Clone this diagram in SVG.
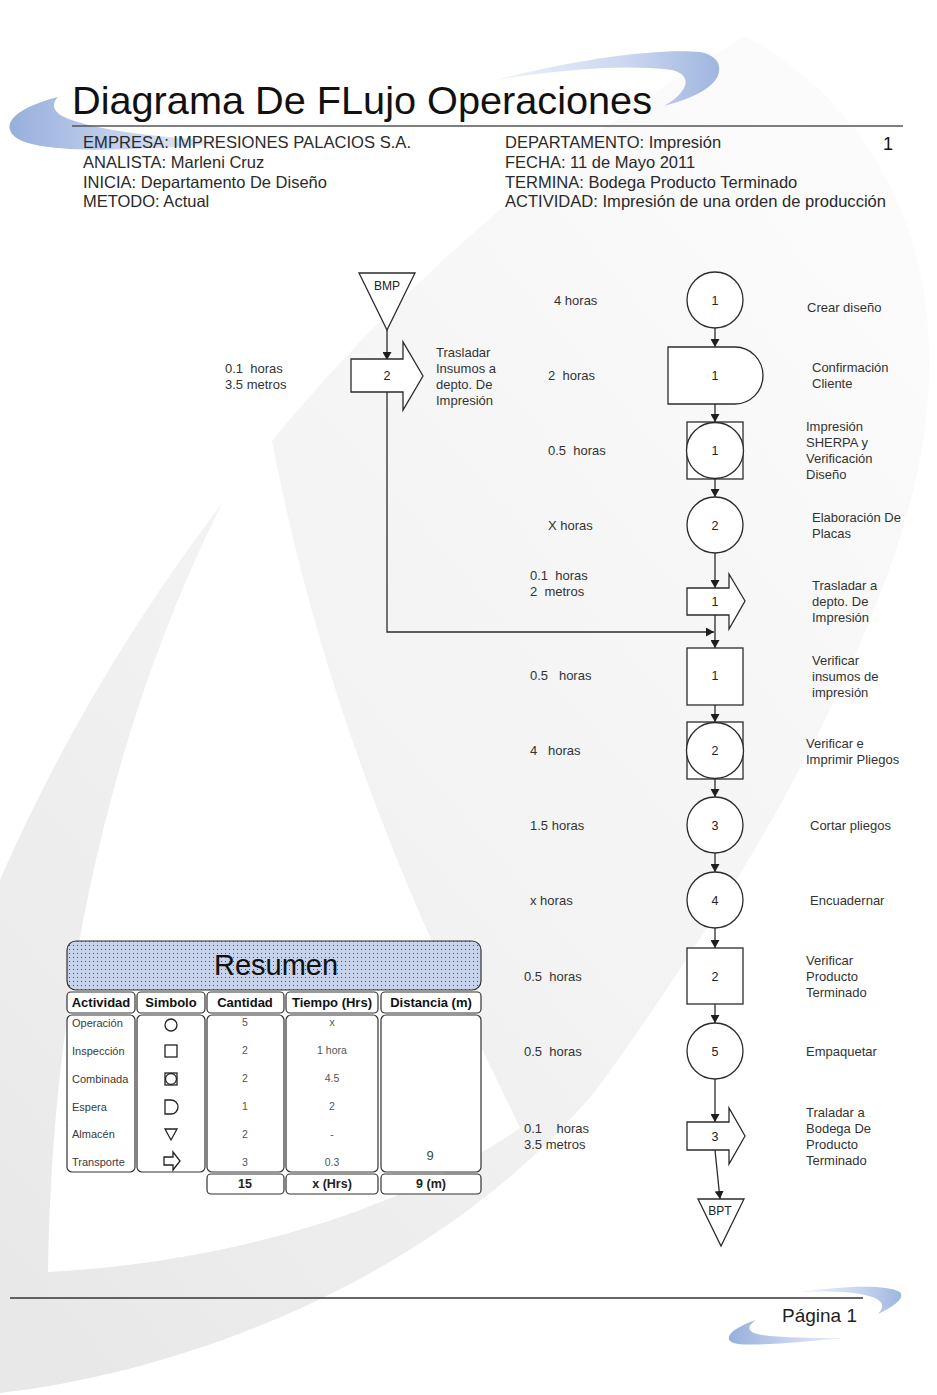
<svg xmlns="http://www.w3.org/2000/svg" width="937" height="1395" viewBox="0 0 937 1395" xml:space="preserve">
<defs>
  <linearGradient id="gLeaf" x1="0.9" y1="0" x2="0.1" y2="1">
    <stop offset="0" stop-color="#fcfcfc"/>
    <stop offset="0.55" stop-color="#f3f3f3"/>
    <stop offset="1" stop-color="#e8e8e8"/>
  </linearGradient>
  <linearGradient id="gBlueL" x1="0" y1="0" x2="1" y2="0">
    <stop offset="0" stop-color="#97afdc"/>
    <stop offset="0.5" stop-color="#c3d2ee"/>
    <stop offset="1" stop-color="#eef2fa"/>
  </linearGradient>
  <linearGradient id="gBlueR" x1="0" y1="0" x2="1" y2="0">
    <stop offset="0" stop-color="#f0f4fb"/>
    <stop offset="0.6" stop-color="#c9d6ef"/>
    <stop offset="1" stop-color="#9fb6e0"/>
  </linearGradient>
  <pattern id="dots" width="4" height="4" patternUnits="userSpaceOnUse">
    <rect width="4" height="4" fill="#c6d3ea"/>
    <rect x="1" y="1" width="1" height="1" fill="#4f4f4f"/>
  </pattern>
  <marker id="arr" markerWidth="9" markerHeight="9" refX="8" refY="4.5" orient="auto" markerUnits="userSpaceOnUse">
    <path d="M0,0 L8,4.5 L0,9 Z" fill="#1e1e1e"/>
  </marker>
  <style>
    text { font-family: "Liberation Sans", Arial, sans-serif; white-space: pre; }
    .hdr { font-size: 16.5px; fill: #2a2a2a; }
    .lbl { font-size: 13px; fill: #333333; }
    .num { font-size: 12.5px; fill: #222222; text-anchor: middle; }
    .shp { fill: #ffffff; stroke: #2b2b2b; stroke-width: 1.3; }
    .con { fill: none; stroke: #2b2b2b; stroke-width: 1.3; }
    .cell { fill: #ffffff; stroke: #333333; stroke-width: 1.2; }
    .th { font-size: 13px; font-weight: bold; fill: #111111; text-anchor: middle; }
    .act { font-size: 11px; fill: #3a3a3a; }
    .val { font-size: 10.5px; fill: #555555; text-anchor: middle; }
    .big { font-size: 13px; fill: #444444; text-anchor: middle; }
    .tot { font-size: 12.5px; font-weight: bold; fill: #222222; text-anchor: middle; }
    .sym { fill: #ffffff; stroke: #222222; stroke-width: 1.3; }
  </style>
</defs>

<!-- background -->
<g id="background">
  <rect x="0" y="0" width="937" height="1395" fill="#ffffff"/>
  <path d="M 745,36 C 880,110 945,250 926,420 C 905,600 770,850 600,1085 C 450,1270 200,1370 0,1393 L 0,880 C 130,580 380,250 745,36 Z" fill="url(#gLeaf)"/>
  <path d="M 268,420 C 130,650 52,950 48,1272 C 230,1262 400,1212 520,1128 C 460,1000 330,760 268,420 Z" fill="#ffffff"/>
  <!-- top swooshes -->
  <path d="M 238,142 C 170,138 95,132 62,116 C 52,110 52,103 58,97 C 30,104 6,116 10,130 C 16,150 80,156 238,142 Z" fill="url(#gBlueL)"/>
  <path d="M 495,80 C 580,58 660,48 700,52 C 722,56 724,72 712,84 C 700,95 682,101 664,106 C 688,92 694,76 672,70 C 620,64 560,70 495,80 Z" fill="url(#gBlueR)"/>
  <!-- footer swooshes -->
  <path d="M 795,1293 C 840,1286 885,1284 900,1292 C 905,1298 895,1306 878,1314 C 886,1306 884,1298 860,1294 C 840,1291 815,1291 795,1293 Z" fill="url(#gBlueR)"/>
  <path d="M 846,1338 C 800,1342 760,1346 738,1344 C 722,1342 726,1330 756,1320 C 744,1328 748,1334 770,1336 C 795,1338 820,1338 846,1338 Z" fill="url(#gBlueL)"/>
</g>

<!-- header -->
<g id="header">
  <text x="72" y="114" font-size="39.5" fill="#111111" textLength="580" lengthAdjust="spacingAndGlyphs">Diagrama De FLujo Operaciones</text>
  <line x1="72" y1="126" x2="903" y2="126" stroke="#555555" stroke-width="1.6"/>
  <text class="hdr" x="83" y="148" textLength="328" lengthAdjust="spacingAndGlyphs">EMPRESA: IMPRESIONES PALACIOS S.A.</text>
  <text class="hdr" x="83" y="168">ANALISTA: Marleni Cruz</text>
  <text class="hdr" x="83" y="188">INICIA: Departamento De Diseño</text>
  <text class="hdr" x="83" y="207">METODO: Actual</text>
  <text class="hdr" x="505" y="148">DEPARTAMENTO: Impresión</text>
  <text class="hdr" x="505" y="168">FECHA: 11 de Mayo 2011</text>
  <text class="hdr" x="505" y="188">TERMINA: Bodega Producto Terminado</text>
  <text class="hdr" x="505" y="207" textLength="381" lengthAdjust="spacingAndGlyphs">ACTIVIDAD: Impresión de una orden de producción</text>
  <text x="883" y="150" font-size="18" fill="#111111">1</text>
</g>

<!-- connectors -->
<g id="connectors">
  <line class="con" x1="387" y1="330" x2="387" y2="360" marker-end="url(#arr)"/>
  <polyline class="con" points="387,392 387,632 714,632" marker-end="url(#arr)"/>
  <line class="con" x1="715" y1="328" x2="715" y2="347" marker-end="url(#arr)"/>
  <line class="con" x1="715" y1="404" x2="715" y2="422" marker-end="url(#arr)"/>
  <line class="con" x1="715" y1="479" x2="715" y2="497" marker-end="url(#arr)"/>
  <line class="con" x1="715" y1="553" x2="715" y2="588" marker-end="url(#arr)"/>
  <line class="con" x1="715" y1="615" x2="715" y2="648" marker-end="url(#arr)"/>
  <line class="con" x1="715" y1="705" x2="715" y2="722" marker-end="url(#arr)"/>
  <line class="con" x1="715" y1="779" x2="715" y2="797" marker-end="url(#arr)"/>
  <line class="con" x1="715" y1="853" x2="715" y2="872" marker-end="url(#arr)"/>
  <line class="con" x1="715" y1="928" x2="715" y2="948" marker-end="url(#arr)"/>
  <line class="con" x1="715" y1="1004" x2="715" y2="1023" marker-end="url(#arr)"/>
  <line class="con" x1="715" y1="1079" x2="715" y2="1122" marker-end="url(#arr)"/>
  <line class="con" x1="715" y1="1150" x2="720" y2="1199" marker-end="url(#arr)"/>
</g>

<!-- left branch -->
<g id="node-bmp">
  <polygon class="shp" points="359,273 415,273 387,330"/>
  <text class="num" x="387" y="290" style="font-size:12px">BMP</text>
</g>
<g id="node-transporte-2">
  <polygon class="shp" points="351,359 403,359 403,342 423,376 403,410 403,392 351,392"/>
  <text class="num" x="387" y="380">2</text>
  <text class="lbl" x="225" y="373">0.1  horas</text>
  <text class="lbl" x="225" y="389">3.5 metros</text>
  <text class="lbl" x="436" y="357">Trasladar</text>
  <text class="lbl" x="436" y="373">Insumos a</text>
  <text class="lbl" x="436" y="389">depto. De</text>
  <text class="lbl" x="436" y="405">Impresión</text>
</g>

<!-- main column -->
<g id="node-operacion-1">
  <circle class="shp" cx="715" cy="300" r="28"/>
  <text class="num" x="715" y="305">1</text>
  <text class="lbl" x="554" y="305">4 horas</text>
  <text class="lbl" x="807" y="312">Crear diseño</text>
</g>
<g id="node-espera-1">
  <path class="shp" d="M 668,347 L 735,347 A 28,28.5 0 0 1 735,404 L 668,404 Z"/>
  <text class="num" x="715" y="380">1</text>
  <text class="lbl" x="548" y="380">2  horas</text>
  <text class="lbl" x="812" y="372">Confirmación</text>
  <text class="lbl" x="812" y="388">Cliente</text>
</g>
<g id="node-combinada-1">
  <rect class="shp" x="687" y="422" width="56" height="57"/>
  <ellipse class="shp" cx="715" cy="450.5" rx="28.5" ry="28"/>
  <text class="num" x="715" y="455">1</text>
  <text class="lbl" x="548" y="455">0.5  horas</text>
  <text class="lbl" x="806" y="431">Impresión</text>
  <text class="lbl" x="806" y="447">SHERPA y</text>
  <text class="lbl" x="806" y="463">Verificación</text>
  <text class="lbl" x="806" y="479">Diseño</text>
</g>
<g id="node-operacion-2">
  <circle class="shp" cx="715" cy="525" r="28"/>
  <text class="num" x="715" y="530">2</text>
  <text class="lbl" x="548" y="530">X horas</text>
  <text class="lbl" x="812" y="522">Elaboración De</text>
  <text class="lbl" x="812" y="538">Placas</text>
</g>
<g id="node-transporte-1">
  <polygon class="shp" points="687,588 729,588 729,574 745,601 729,629 729,615 687,615"/>
  <text class="num" x="715" y="606">1</text>
  <text class="lbl" x="530" y="580">0.1  horas</text>
  <text class="lbl" x="530" y="596">2  metros</text>
  <text class="lbl" x="812" y="590">Trasladar a</text>
  <text class="lbl" x="812" y="606">depto. De</text>
  <text class="lbl" x="812" y="622">Impresión</text>
</g>
<g id="node-inspeccion-1">
  <rect class="shp" x="687" y="648" width="56" height="57"/>
  <text class="num" x="715" y="680">1</text>
  <text class="lbl" x="530" y="680">0.5   horas</text>
  <text class="lbl" x="812" y="665">Verificar</text>
  <text class="lbl" x="812" y="681">insumos de</text>
  <text class="lbl" x="812" y="697">impresión</text>
</g>
<g id="node-combinada-2">
  <rect class="shp" x="687" y="722" width="56" height="57"/>
  <ellipse class="shp" cx="715" cy="750.5" rx="28.5" ry="28"/>
  <text class="num" x="715" y="755">2</text>
  <text class="lbl" x="530" y="755">4   horas</text>
  <text class="lbl" x="806" y="748">Verificar e</text>
  <text class="lbl" x="806" y="764">Imprimir Pliegos</text>
</g>
<g id="node-operacion-3">
  <circle class="shp" cx="715" cy="825" r="28"/>
  <text class="num" x="715" y="830">3</text>
  <text class="lbl" x="530" y="830">1.5 horas</text>
  <text class="lbl" x="810" y="830">Cortar pliegos</text>
</g>
<g id="node-operacion-4">
  <circle class="shp" cx="715" cy="900" r="28"/>
  <text class="num" x="715" y="905">4</text>
  <text class="lbl" x="530" y="905">x horas</text>
  <text class="lbl" x="810" y="905">Encuadernar</text>
</g>
<g id="node-inspeccion-2">
  <rect class="shp" x="687" y="948" width="56" height="56"/>
  <text class="num" x="715" y="981">2</text>
  <text class="lbl" x="524" y="981">0.5  horas</text>
  <text class="lbl" x="806" y="965">Verificar</text>
  <text class="lbl" x="806" y="981">Producto</text>
  <text class="lbl" x="806" y="997">Terminado</text>
</g>
<g id="node-operacion-5">
  <circle class="shp" cx="715" cy="1051" r="28"/>
  <text class="num" x="715" y="1056">5</text>
  <text class="lbl" x="524" y="1056">0.5  horas</text>
  <text class="lbl" x="806" y="1056">Empaquetar</text>
</g>
<g id="node-transporte-3">
  <polygon class="shp" points="687,1122 729,1122 729,1108 745,1136 729,1164 729,1150 687,1150"/>
  <text class="num" x="715" y="1141">3</text>
  <text class="lbl" x="524" y="1133">0.1    horas</text>
  <text class="lbl" x="524" y="1149">3.5 metros</text>
  <text class="lbl" x="806" y="1117">Traladar a</text>
  <text class="lbl" x="806" y="1133">Bodega De</text>
  <text class="lbl" x="806" y="1149">Producto</text>
  <text class="lbl" x="806" y="1165">Terminado</text>
</g>
<g id="node-bpt">
  <polygon class="shp" points="698,1199 744,1199 721,1246"/>
  <text class="num" x="720" y="1215" style="font-size:12px">BPT</text>
</g>

<!-- summary table -->
<g id="resumen">
  <rect x="67" y="941" width="414" height="49" rx="9" fill="url(#dots)" stroke="#333333" stroke-width="1.2"/>
  <text x="276" y="975" font-size="29" fill="#111111" text-anchor="middle">Resumen</text>
  <rect class="cell" x="67" y="992" width="68" height="21" rx="4"/>
  <rect class="cell" x="137" y="992" width="68" height="21" rx="4"/>
  <rect class="cell" x="207" y="992" width="77" height="21" rx="4"/>
  <rect class="cell" x="286" y="992" width="92" height="21" rx="4"/>
  <rect class="cell" x="381" y="992" width="100" height="21" rx="4"/>
  <text class="th" x="101" y="1007">Actividad</text>
  <text class="th" x="171" y="1007">Simbolo</text>
  <text class="th" x="245" y="1007">Cantidad</text>
  <text class="th" x="332" y="1007">Tiempo (Hrs)</text>
  <text class="th" x="431" y="1007">Distancia (m)</text>
  <rect class="cell" x="67" y="1015" width="68" height="157" rx="5"/>
  <rect class="cell" x="137" y="1015" width="68" height="157" rx="5"/>
  <rect class="cell" x="207" y="1015" width="77" height="157" rx="5"/>
  <rect class="cell" x="286" y="1015" width="92" height="157" rx="5"/>
  <rect class="cell" x="381" y="1015" width="100" height="157" rx="5"/>
  <text class="act" x="72" y="1027">Operación</text>
  <text class="act" x="72" y="1055">Inspección</text>
  <text class="act" x="72" y="1083">Combinada</text>
  <text class="act" x="72" y="1111">Espera</text>
  <text class="act" x="72" y="1138">Almacén</text>
  <text class="act" x="72" y="1166">Transporte</text>
  <circle class="sym" cx="171" cy="1025" r="6"/>
  <rect class="sym" x="165" y="1045" width="12" height="12"/>
  <rect class="sym" x="165" y="1073" width="12" height="12" stroke-width="2"/>
  <circle class="sym" cx="171" cy="1079" r="5.5"/>
  <path class="sym" d="M 165,1100 L 171,1100 A 7,7 0 0 1 171,1114 L 165,1114 Z"/>
  <polygon class="sym" points="165,1129 177,1129 171,1140"/>
  <polygon class="sym" points="164,1157 173,1157 173,1152 180,1161 173,1170 173,1165 164,1165"/>
  <text class="val" x="245" y="1026">5</text>
  <text class="val" x="245" y="1054">2</text>
  <text class="val" x="245" y="1082">2</text>
  <text class="val" x="245" y="1110">1</text>
  <text class="val" x="245" y="1138">2</text>
  <text class="val" x="245" y="1166">3</text>
  <text class="val" x="332" y="1026">x</text>
  <text class="val" x="332" y="1054">1 hora</text>
  <text class="val" x="332" y="1082">4.5</text>
  <text class="val" x="332" y="1110">2</text>
  <text class="val" x="332" y="1138">-</text>
  <text class="val" x="332" y="1166">0.3</text>
  <text class="big" x="430" y="1160">9</text>
  <rect class="cell" x="207" y="1174" width="77" height="20" rx="4"/>
  <rect class="cell" x="286" y="1174" width="92" height="20" rx="4"/>
  <rect class="cell" x="381" y="1174" width="100" height="20" rx="4"/>
  <text class="tot" x="245" y="1188">15</text>
  <text class="tot" x="332" y="1188">x (Hrs)</text>
  <text class="tot" x="431" y="1188">9 (m)</text>
</g>

<!-- footer -->
<g id="footer">
  <line x1="10" y1="1298" x2="863" y2="1298" stroke="#333333" stroke-width="1.4"/>
  <text x="782" y="1322" font-size="19" fill="#222222">Página 1</text>
</g>
</svg>
